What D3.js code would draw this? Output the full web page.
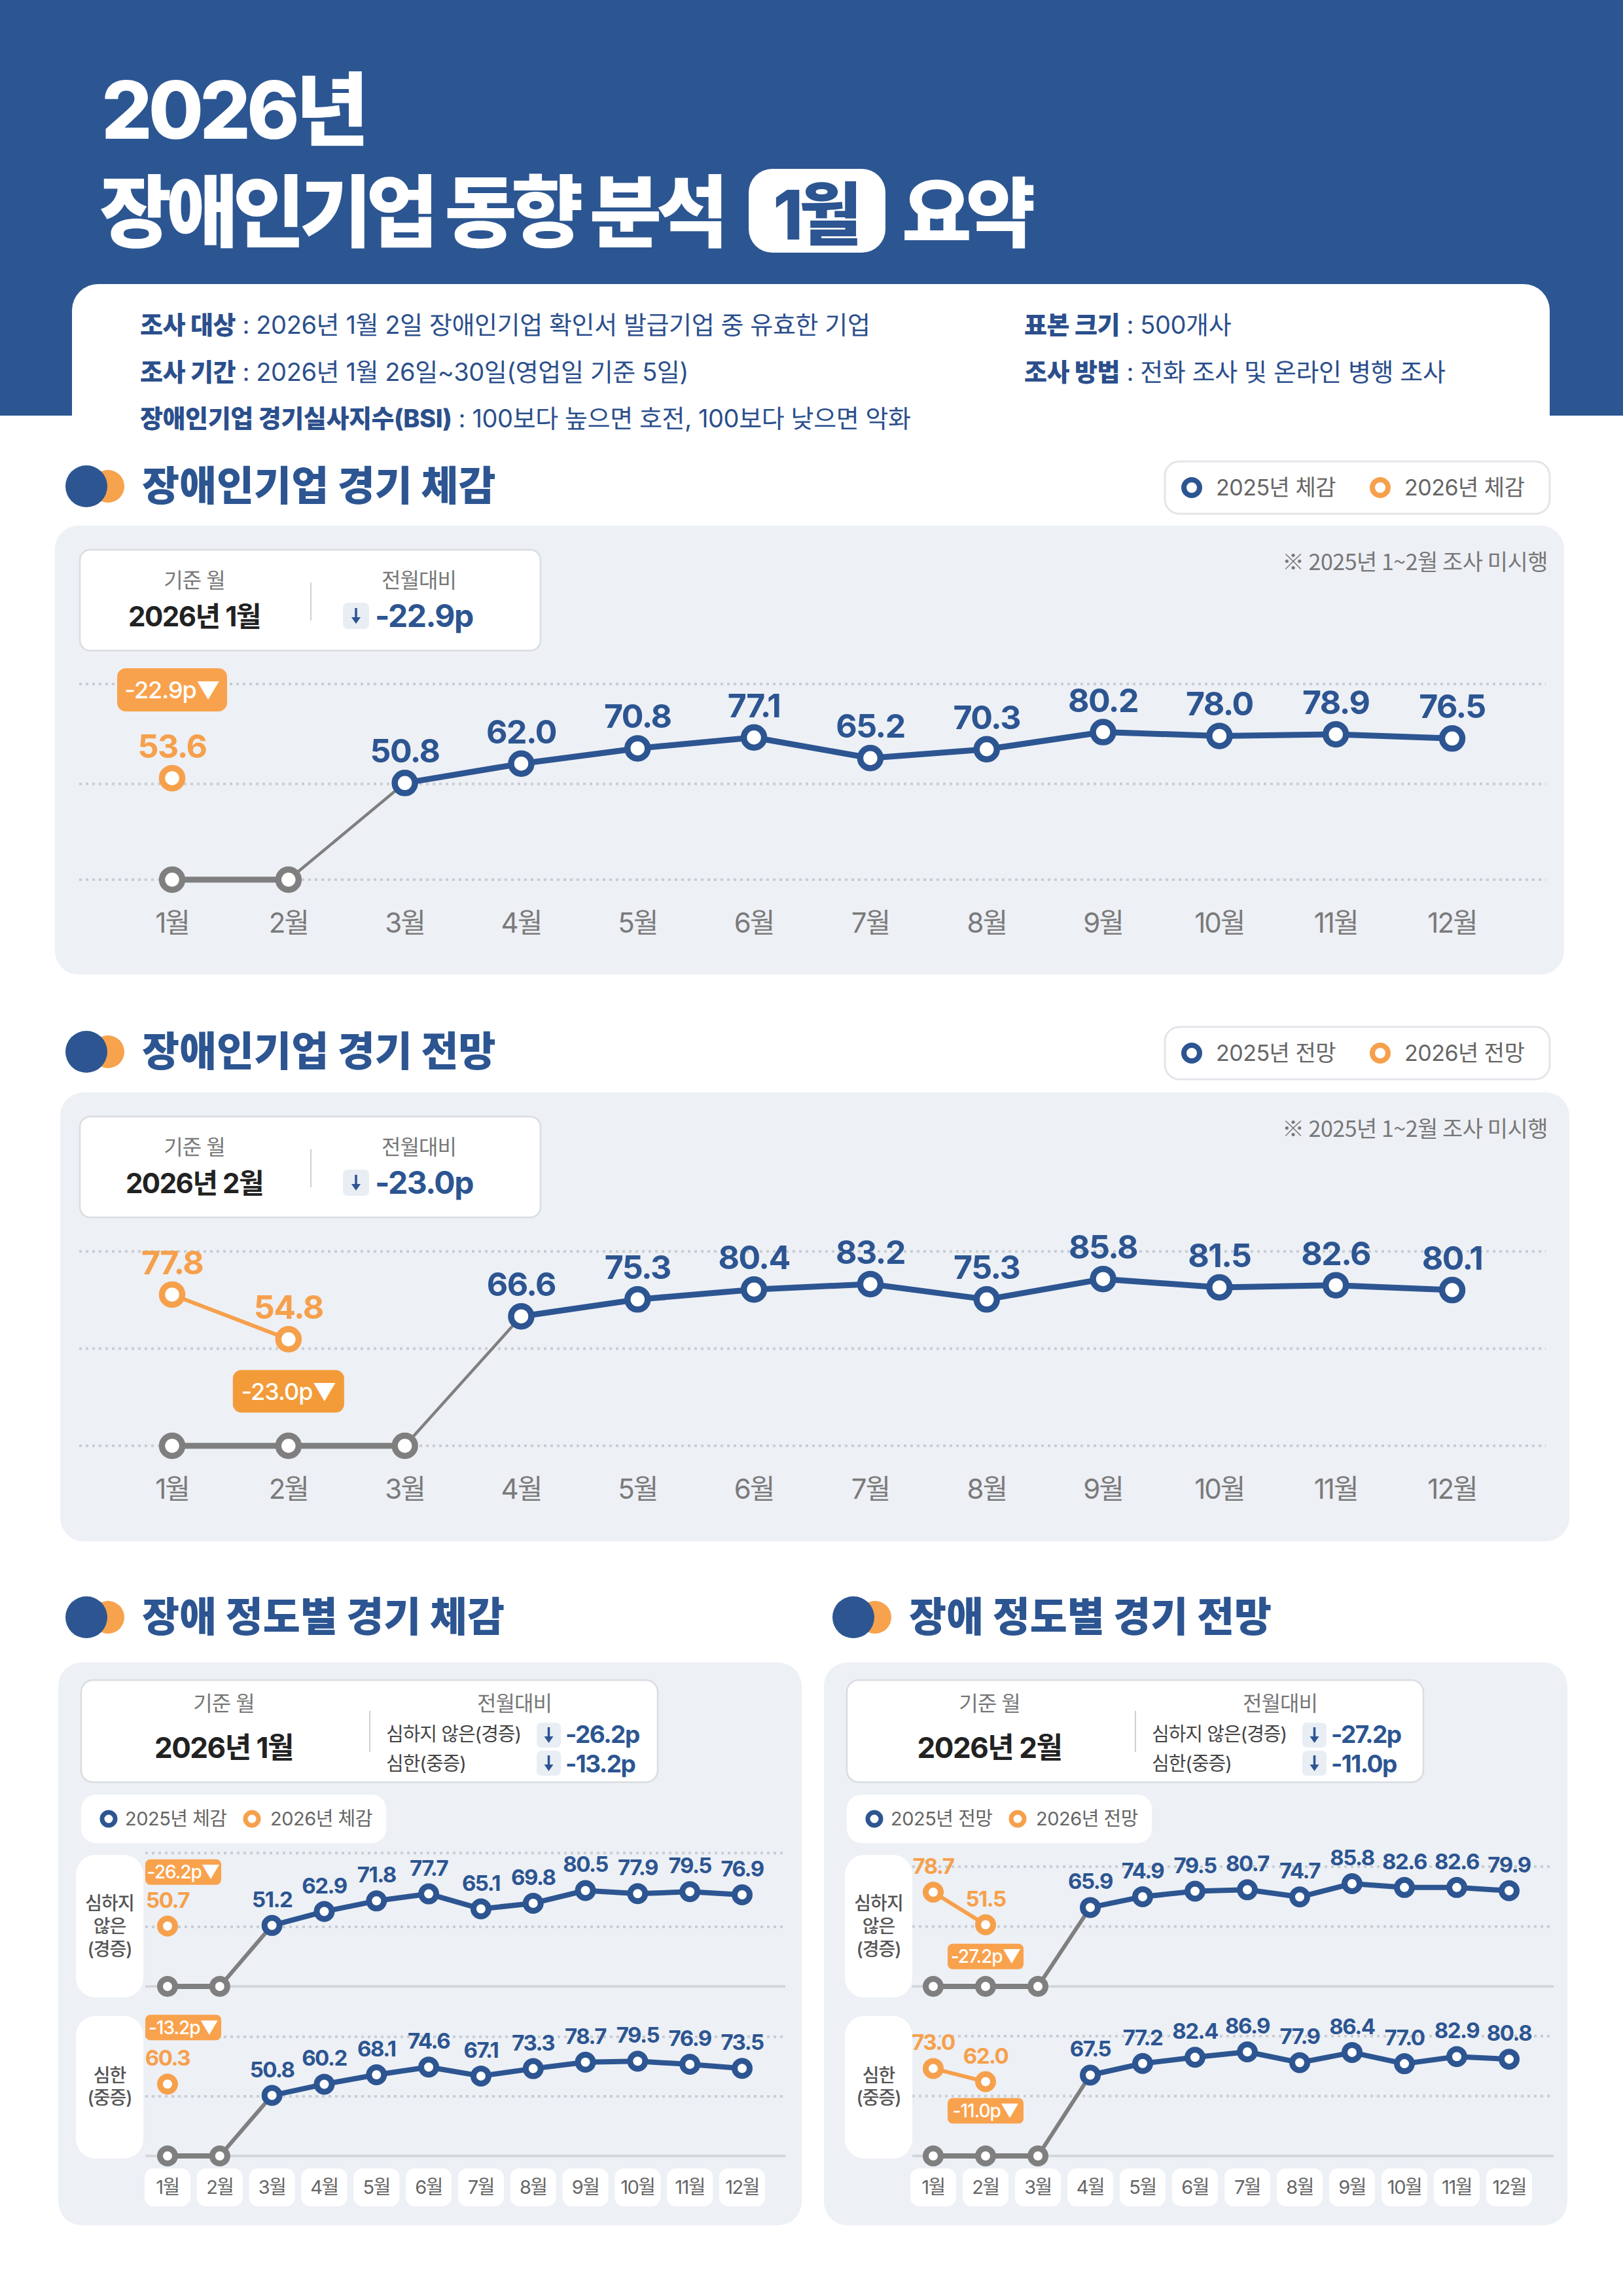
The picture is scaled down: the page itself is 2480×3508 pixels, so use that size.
<!DOCTYPE html>
<html><head><meta charset="utf-8">
<script src="https://cdn.jsdelivr.net/npm/d3@7"></script>
<style>html,body{margin:0;padding:0;background:#fff;} svg{display:block;}</style>
</head><body><svg id="c" width="2480" height="3508"></svg>
<script>
// ---------------- DATA ----------------
const months = ["1월","2월","3월","4월","5월","6월","7월","8월","9월","10월","11월","12월"];
const sense2025 = [null,null,50.8,62.0,70.8,77.1,65.2,70.3,80.2,78.0,78.9,76.5];
const sense2026 = [53.6];
const outlook2025 = [null,null,null,66.6,75.3,80.4,83.2,75.3,85.8,81.5,82.6,80.1];
const outlook2026 = [77.8,54.8];
const senseMild2025 = [null,null,51.2,62.9,71.8,77.7,65.1,69.8,80.5,77.9,79.5,76.9];
const senseMild2026 = [50.7];
const senseSevere2025 = [null,null,50.8,60.2,68.1,74.6,67.1,73.3,78.7,79.5,76.9,73.5];
const senseSevere2026 = [60.3];
const outlookMild2025 = [null,null,null,65.9,74.9,79.5,80.7,74.7,85.8,82.6,82.6,79.9];
const outlookMild2026 = [78.7,51.5];
const outlookSevere2025 = [null,null,null,67.5,77.2,82.4,86.9,77.9,86.4,77.0,82.9,80.8];
const outlookSevere2026 = [73.0,62.0];
const changeSense = "-22.9p", changeOutlook = "-23.0p";
const changeSenseMild = "-26.2p", changeSenseSevere = "-13.2p";
const changeOutlookMild = "-27.2p", changeOutlookSevere = "-11.0p";
const gridTicks = [0,50,100];
const senseDomain = [-5,108];
const gridTicksSense = [-5,50.3,108];
const gridTicksSenseMild = [0,50,112];
const infoRows = [
  ["조사 대상"," : 2026년 1월 2일 장애인기업 확인서 발급기업 중 유효한 기업"],
  ["조사 기간"," : 2026년 1월 26일~30일(영업일 기준 5일)"],
  ["장애인기업 경기실사지수(BSI)"," : 100보다 높으면 호전, 100보다 낮으면 악화"]
];
const infoRowsRight = [["표본 크기"," : 500개사"],["조사 방법"," :  전화 조사 및 온라인 병행 조사"]];

// ---------------- STYLE ----------------
const BLUE="#2c5591", ORANGE="#f6a04c", BADGE="#f9a24d", BADGE2="#f29b38", GRAY="#7f7f7f", PANEL="#edf0f5";
const FF = "Inter, 'Noto Sans CJK KR', sans-serif";
const svg = d3.select("#c");
svg.append("rect").attr("width",2480).attr("height",3508).attr("fill","#fff");

function T(p,x,y,s,size,fill,weight=400,anchor="start",ls=null){
  const t=p.append("text").attr("x",x).attr("y",y).attr("font-family",FF).attr("font-size",size)
    .attr("fill",fill).attr("font-weight",weight).attr("text-anchor",anchor).text(s);
  if(ls!=null) t.attr("letter-spacing",ls);
  return t;
}
function R(p,x,y,w,h,rx,fill,stroke=null,sw=0){
  const r=p.append("rect").attr("x",x).attr("y",y).attr("width",w).attr("height",h).attr("rx",rx).attr("fill",fill);
  if(stroke) r.attr("stroke",stroke).attr("stroke-width",sw);
  return r;
}

// ---------------- HEADER ----------------
svg.append("rect").attr("x",0).attr("y",0).attr("width",2480).attr("height",635).attr("fill","#2c5692");
T(svg,155,212,"2026년",122,"#fff",800,"start",-6);
T(svg,152,368,"장애인기업 동향 분석",120,"#fff",800,"start",-8.5);
R(svg,1144,258,209,128,36,"#fff");
T(svg,1246,366,"1월",104,BLUE,800,"middle",-6);
T(svg,1378,368,"요약",116,"#fff",800,"start",-9);

R(svg,110,434,2258,320,40,"#fff");
infoRows.forEach((r,i)=>{
  const t=T(svg,214,510+i*71.5,"",38,"#2b4f8c",400,"start",-0.4);
  t.append("tspan").attr("font-weight",800).text(r[0]);
  t.append("tspan").attr("font-weight",400).text(r[1]);
});
infoRowsRight.forEach((r,i)=>{
  const t=T(svg,1565,510+i*71.5,"",38,"#2b4f8c",400,"start",-0.4);
  t.append("tspan").attr("font-weight",800).text(r[0]);
  t.append("tspan").attr("font-weight",400).text(r[1]);
});

// ---------------- HELPERS ----------------
function heading(x,cy,label){
  svg.append("circle").attr("cx",x+65).attr("cy",cy).attr("r",25).attr("fill","#f7a24c");
  svg.append("circle").attr("cx",x+32).attr("cy",cy).attr("r",32).attr("fill",BLUE);
  T(svg,x+117,cy+22,label,62,BLUE,800,"start",0);
}
function ring(p,cx,cy,r,sw,color){
  p.append("circle").attr("cx",cx).attr("cy",cy).attr("r",r).attr("fill","#fff").attr("stroke",color).attr("stroke-width",sw);
}
function arrowBox(p,x,y,w,h){
  R(p,x,y,w,h,7,"#e9edf4");
  const cx=x+w/2, cy=y+h/2;
  p.append("line").attr("x1",cx).attr("x2",cx).attr("y1",cy-12).attr("y2",cy+4).attr("stroke",BLUE).attr("stroke-width",3.5);
  p.append("path").attr("d",`M${cx-7},${cy+2}L${cx+7},${cy+2}L${cx},${cy+12}Z`).attr("fill",BLUE);
}
function drawSeries(g,x,y,s25,s26,st){
  const base=y.domain()[0];
  const pts=s25.map((v,i)=>({m:months[i],v}));
  const nulls=pts.filter(p=>p.v==null), vals=pts.filter(p=>p.v!=null);
  const o=s26.map((v,i)=>({m:months[i],v}));
  const line=d3.line().x(d=>x(d.m)).y(d=>y(d.v==null?base:d.v));
  if(nulls.length>1) g.append("path").datum(nulls).attr("d",line).attr("fill","none").attr("stroke",GRAY).attr("stroke-width",st.lw);
  if(nulls.length&&vals.length) g.append("path").datum([nulls[nulls.length-1],vals[0]]).attr("d",line).attr("fill","none").attr("stroke",GRAY).attr("stroke-width",st.thin);
  g.append("path").datum(vals).attr("d",line).attr("fill","none").attr("stroke",BLUE).attr("stroke-width",st.lw).attr("stroke-linejoin","round");
  if(o.length>1) g.append("path").datum(o).attr("d",line).attr("fill","none").attr("stroke",ORANGE).attr("stroke-width",st.olw);
  nulls.forEach(d=>ring(g,x(d.m),y(base),st.r,st.sw,GRAY));
  vals.forEach(d=>ring(g,x(d.m),y(d.v),st.r,st.sw,BLUE));
  o.forEach(d=>ring(g,x(d.m),y(d.v),st.r,st.sw,ORANGE));
  vals.forEach(d=>T(g,x(d.m),y(d.v)-st.off,d.v.toFixed(1),st.fs,BLUE,700,"middle",st.ls));
  o.forEach(d=>T(g,x(d.m),y(d.v)-st.off,d.v.toFixed(1),st.fs,ORANGE,700,"middle",st.ls));
}
function grid(g,y,ticks,x0,x1,solidZero){
  ticks.forEach((t,i)=>{
    const l=g.append("line").attr("x1",x0).attr("x2",x1).attr("y1",y(t)).attr("y2",y(t));
    if(solidZero&&i===0) l.attr("stroke","#d3d6db").attr("stroke-width",4);
    else l.attr("stroke","#c9cdd4").attr("stroke-width",4).attr("stroke-dasharray","4 6");
  });
}
function badge(p,cx,y,w,h,text,fs,color){
  R(p,cx-w/2,y,w,h,h*0.2,color);
  T(p,cx,y+h/2+fs*0.36,text+"▼",fs,"#fff",500,"middle",-1);
}

// ---------------- MAIN CHARTS ----------------
const xMain = d3.scalePoint().domain(months).range([263,2219]);
function mainChart(o){
  heading(100,o.titleY,o.title);
  // legend
  R(svg,1780,o.titleY-38,588,80,22,"#fff","#e3e5ea",3);
  ring(svg,1821,o.titleY+2,12,8,BLUE);
  T(svg,1858,o.titleY+14,o.leg[0],34,"#666",400,"start",-0.5);
  ring(svg,2109,o.titleY+2,12,8,ORANGE);
  T(svg,2146,o.titleY+14,o.leg[1],34,"#666",400,"start",-0.5);
  // panel
  R(svg,o.px,o.py,2306,686,36,PANEL);
  const bx=122, by=o.py+37;
  R(svg,bx,by,704,154,16,"#fff","#d9dce1",2.5);
  T(svg,297,by+58,"기준 월",32,"#777",400,"middle",-1);
  T(svg,297,by+117,o.month,42,"#222",700,"middle",-1.5);
  svg.append("line").attr("x1",475).attr("x2",475).attr("y1",by+50).attr("y2",by+108).attr("stroke","#d0d0d0").attr("stroke-width",2);
  T(svg,640,by+58,"전월대비",32,"#777",400,"middle",-1);
  arrowBox(svg,524,by+81,40,40);
  T(svg,573,by+118,o.change,48,BLUE,700,"start",-1.5);
  T(svg,2365,by+31,"※ 2025년 1~2월 조사 미시행",34,"#777",400,"end",-0.5).attr("font-family","'Noto Sans CJK KR', sans-serif");
  const g=svg.append("g");
  grid(g,o.y,o.ticks,121,2362,false);
  drawSeries(g,xMain,o.y,o.s25,o.s26,{lw:9,thin:4.5,olw:6,r:15.5,sw:9.5,fs:50,off:31,ls:-1.5});
  months.forEach(m=>T(g,xMain(m),o.monthY,m,42,"#7a7a7a",400,"middle",-2));
  o.badge(g);
}
const yS = d3.scaleLinear().domain(senseDomain).range([1344,1045]);
mainChart({title:"장애인기업 경기 체감",titleY:743,leg:["2025년 체감","2026년 체감"],px:84,py:803,
  month:"2026년 1월",change:changeSense,y:yS,ticks:gridTicksSense,s25:sense2025,s26:sense2026,monthY:1425,
  badge:g=>badge(g,xMain(months[0]),yS(sense2026[0])-168,168,66,changeSense,36,BADGE)});
const yO = d3.scaleLinear().domain([0,100]).range([2209,1912]);
mainChart({title:"장애인기업 경기 전망",titleY:1607,leg:["2025년 전망","2026년 전망"],px:92,py:1669,
  month:"2026년 2월",change:changeOutlook,y:yO,ticks:gridTicks,s25:outlook2025,s26:outlook2026,monthY:2290,
  badge:g=>badge(g,xMain(months[1]),yO(outlook2026[1])+47,170,65,changeOutlook,36,BADGE2)});

// ---------------- DEGREE CHARTS ----------------
function degreePanel(o){
  const dx=o.dx;
  heading(100+o.hdx,2471,o.title);
  R(svg,89+dx,2540,1136,860,36,PANEL);
  const bx=124+dx;
  R(svg,bx,2567,881,156,18,"#fff","#d9dce1",2.5);
  T(svg,342+dx,2614,"기준 월",32,"#777",400,"middle",-1);
  T(svg,342+dx,2686,o.month,44,"#222",700,"middle",-1.5);
  svg.append("line").attr("x1",565+dx).attr("x2",565+dx).attr("y1",2614).attr("y2",2677).attr("stroke","#d0d0d0").attr("stroke-width",2);
  T(svg,786+dx,2614,"전월대비",32,"#777",400,"middle",-1);
  T(svg,590+dx,2660,"심하지 않은(경증)",29,"#444",400,"start",-1);
  T(svg,590+dx,2705,"심한(중증)",29,"#444",400,"start",-1);
  arrowBox(svg,820+dx,2632,37,38);
  arrowBox(svg,820+dx,2675,37,38);
  T(svg,864+dx,2663,o.changes[0],37,BLUE,700,"start",-1.5);
  T(svg,864+dx,2708,o.changes[1],37,BLUE,700,"start",-1.5);
  // legend pill
  R(svg,bx,2742,466,74,22,"#fff");
  ring(svg,bx+42,2779,10,7,BLUE);
  T(svg,bx+67,2789,o.leg[0],29,"#666",400,"start",-0.5);
  ring(svg,bx+261,2779,10,7,ORANGE);
  T(svg,bx+289,2789,o.leg[1],29,"#666",400,"start",-0.5);
  // row label boxes
  const rx=116+o.rdx;
  R(svg,rx,2834,103,218,30,"#fff");
  R(svg,rx,3080,103,218,30,"#fff");
  ["심하지","않은","(경증)"].forEach((s,i)=>T(svg,rx+51.5,2918+i*35,s,28,"#555",500,"middle",-1));
  ["심한","(중증)"].forEach((s,i)=>T(svg,rx+51.5,3181+i*34,s,28,"#555",500,"middle",-1));
  const x=d3.scalePoint().domain(months).range(o.xr);
  const g=svg.append("g");
  const st={lw:8,thin:6,olw:6,r:11.5,sw:9,fs:33,off:28,ls:-1.5};
  grid(g,o.yU,o.ticksU,o.gx[0],o.gx[1],true);
  grid(g,o.yL,gridTicks,o.gx[0],o.gx[1],true);
  drawSeries(g,x,o.yU,o.mild25,o.mild26,st);
  drawSeries(g,x,o.yL,o.sev25,o.sev26,st);
  months.forEach(m=>{
    R(g,x(m)-35,3313,70,58,14,"#fff");
    T(g,x(m),3352,m,29,"#666",400,"middle",-1.5);
  });
  o.badges(g,x);
}
const yLU=d3.scaleLinear().domain([0,100]).range([3035,2853]);
const yLL=d3.scaleLinear().domain([0,100]).range([3294,3112]);
degreePanel({dx:0,hdx:0,rdx:0,title:"장애 정도별 경기 체감",month:"2026년 1월",changes:[changeSenseMild,changeSenseSevere],
  leg:["2025년 체감","2026년 체감"],xr:[256,1134],gx:[222,1200],yU:yLU,yL:yLL,ticksU:gridTicksSenseMild,
  mild25:senseMild2025,mild26:senseMild2026,sev25:senseSevere2025,sev26:senseSevere2026,
  badges:(g,x)=>{
    badge(g,x(months[0])+24,yLU(senseMild2026[0])-102,116,39,changeSenseMild,28,BADGE);
    badge(g,x(months[0])+24,yLL(senseSevere2026[0])-106,116,39,changeSenseSevere,28,BADGE);
  }});
const yRU=d3.scaleLinear().domain([0,100]).range([3035,2852]);
const yRL=d3.scaleLinear().domain([0,100]).range([3294,3111]);
degreePanel({dx:1170,hdx:1172,rdx:1175,title:"장애 정도별 경기 전망",month:"2026년 2월",changes:[changeOutlookMild,changeOutlookSevere],
  leg:["2025년 전망","2026년 전망"],xr:[1426,2306],gx:[1394,2374],yU:yRU,yL:yRL,ticksU:gridTicks,
  mild25:outlookMild2025,mild26:outlookMild2026,sev25:outlookSevere2025,sev26:outlookSevere2026,
  badges:(g,x)=>{
    badge(g,x(months[1]),yRU(outlookMild2026[1])+29,116,39,changeOutlookMild,28,BADGE);
    badge(g,x(months[1]),yRL(outlookSevere2026[1])+25,116,39,changeOutlookSevere,28,BADGE);
  }});
</script></body></html>
